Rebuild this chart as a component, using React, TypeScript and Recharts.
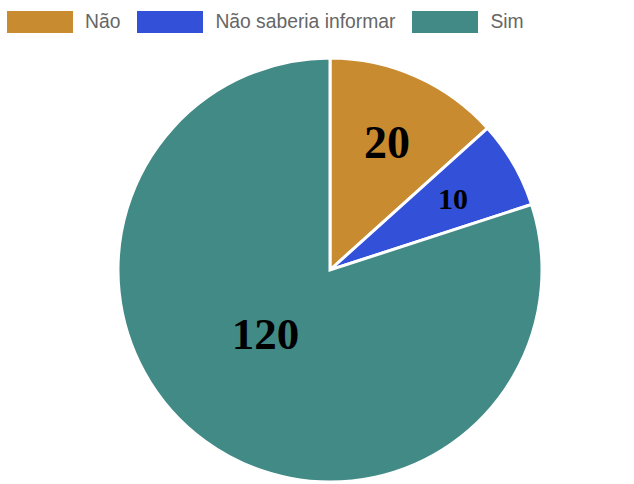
import { PieChart, Pie, Cell } from 'recharts';

const categories = ['Não', 'Não saberia informar', 'Sim'];
const values = [20, 10, 120];
const COLORS = ['#C98B2F', '#3350D8', '#428A85'];

// label styling per slice (font size, radius factor, angle nudge)
const LABEL_SIZE = [46, 30, 45];
const LABEL_R = [0.66, 0.67, 0.43];
const LABEL_NUDGE = [0, 0, -9];

const RADIAN = Math.PI / 180;

const data = categories.map((name, i) => ({ name, value: values[i] }));

function renderLabel(props: any) {
  const { cx, cy, midAngle, outerRadius, index, value } = props;
  const a = (midAngle + LABEL_NUDGE[index]) * RADIAN;
  const r = outerRadius * LABEL_R[index];
  const x = cx + r * Math.cos(a);
  const y = cy - r * Math.sin(a);
  return (
    <text x={x} y={y} textAnchor="middle" dominantBaseline="central"
      fill="#000" fontFamily="'Liberation Serif', 'Times New Roman', serif"
      fontWeight="bold" fontSize={LABEL_SIZE[index]}>
      {value}
    </text>
  );
}

function LegendRow() {
  return (
    <div style={{
      position: 'absolute', left: 7, top: 11, display: 'flex', alignItems: 'center',
      fontFamily: "'Liberation Sans', Arial, sans-serif", fontSize: 19.3, color: '#666',
    }}>
      {categories.map((c, i) => (
        <div key={c} style={{ display: 'flex', alignItems: 'center', marginRight: 17 }}>
          <div style={{ width: 66, height: 22, backgroundColor: COLORS[i], marginRight: 12 }} />
          <span>{c}</span>
        </div>
      ))}
    </div>
  );
}

export default function App() {
  return (
    <div style={{ position: 'absolute', left: 0, top: 0, width: 634, height: 484, background: '#fff' }}>
      <PieChart width={634} height={484} margin={{ top: 0, right: 0, bottom: 0, left: 0 }}>
        <Pie data={data} dataKey="value" nameKey="name" cx={330} cy={270}
          outerRadius={212} startAngle={90} endAngle={-270}
          stroke="#fff" strokeWidth={3} label={renderLabel} labelLine={false}
          isAnimationActive={false}>
          {data.map((_, i) => (
            <Cell key={i} fill={COLORS[i]} />
          ))}
        </Pie>
      </PieChart>
      <LegendRow />
    </div>
  );
}
